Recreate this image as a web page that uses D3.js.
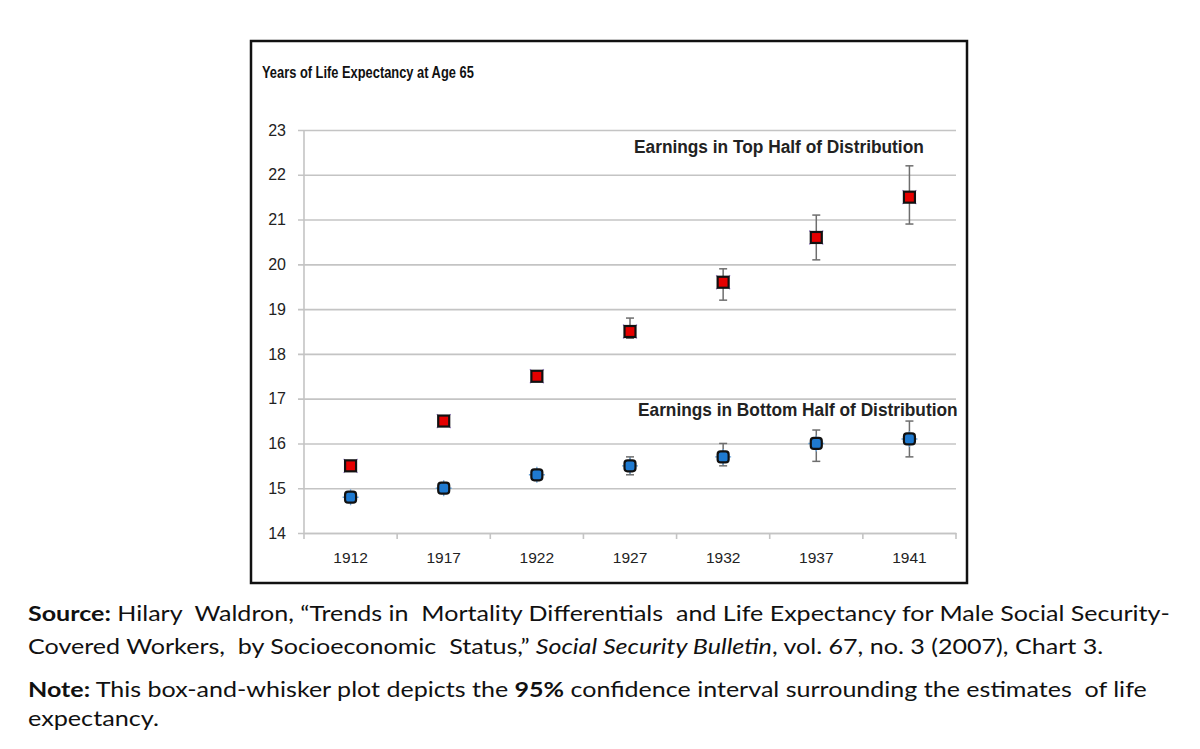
<!DOCTYPE html>
<html><head><meta charset="utf-8">
<script src="https://cdn.jsdelivr.net/npm/d3@7"></script>
<style>
html,body{margin:0;padding:0;background:#fff;}
svg{display:block;}
</style></head>
<body>
<svg id="c" width="1200" height="749"></svg>
<script>
// ---- data ----
const years = ["1912","1917","1922","1927","1932","1937","1941"];
const topVals  = [15.5, 16.5, 17.5, 18.5, 19.6, 20.6, 21.5];
const topLow   = [15.45,16.45,17.45,18.35,19.2, 20.1, 20.9];
const topHigh  = [15.55,16.55,17.55,18.8, 19.9, 21.1, 22.2];
const botVals  = [14.8, 15.0, 15.3, 15.5, 15.7, 16.0, 16.1];
const botLow   = [14.75,14.95,15.2, 15.3, 15.5, 15.6, 15.7];
const botHigh  = [14.85,15.05,15.4, 15.7, 16.0, 16.3, 16.5];
const yTicks   = [14,15,16,17,18,19,20,21,22,23];
const chartTitle = "Years of Life Expectancy at Age 65";
const topLabel = "Earnings in Top Half of Distribution";
const botLabel = "Earnings in Bottom Half of Distribution";

const svg = d3.select("#c");
const W = 1200, H = 749;
svg.append("rect").attr("width",W).attr("height",H).attr("fill","#fff");

// frame
svg.append("rect").attr("x",251).attr("y",41).attr("width",716).attr("height",542)
  .attr("fill","#fff").attr("stroke","#111").attr("stroke-width",2.5);

const L = 304, R = 956, T = 130, B = 533;
const x = d3.scaleBand().domain(years).range([L,R]);
const y = d3.scaleLinear().domain([14,23]).range([B,T]);

const chartFont = "'Liberation Sans Narrow','Liberation Sans',Arial,sans-serif";
const tickFont = "'Liberation Sans',Arial,sans-serif";
const gridCol = "#c4c4c4";

// y axis with gridlines
const gy = svg.append("g").attr("transform",`translate(${L},0)`)
  .call(d3.axisLeft(y).tickValues(yTicks).tickSizeInner(-(R-L)).tickSizeOuter(0).tickPadding(18).tickFormat(d3.format("d")));
gy.select(".domain").remove();
gy.selectAll(".tick line").attr("x1",-6).attr("stroke",gridCol).attr("stroke-width",1.6);
gy.selectAll(".tick text").attr("font-family",tickFont).attr("font-size",16).attr("fill","#222");
// y axis line
svg.append("line").attr("x1",L).attr("x2",L).attr("y1",T).attr("y2",B).attr("stroke",gridCol).attr("stroke-width",1.6);

// x axis
const gx = svg.append("g").attr("transform",`translate(0,${B})`)
  .call(d3.axisBottom(x).tickSize(0).tickPadding(19));
gx.select(".domain").attr("stroke",gridCol).attr("stroke-width",1.6);
gx.selectAll(".tick text").attr("font-family",tickFont).attr("font-size",15.5).attr("fill","#222");
const bounds = years.map(d=>x(d)).concat([x(years[years.length-1])+x.bandwidth()]);
svg.append("g").selectAll("line").data(bounds).join("line")
  .attr("x1",d=>d).attr("x2",d=>d).attr("y1",B).attr("y2",B+6)
  .attr("stroke",gridCol).attr("stroke-width",1.6);

const cx = d => x(d) + x.bandwidth()/2;

function errorBars(lo, hi, color){
  const g = svg.append("g").attr("stroke",color).attr("stroke-width",1.5);
  years.forEach((d,i)=>{
    const X = cx(d);
    g.append("line").attr("x1",X).attr("x2",X).attr("y1",y(hi[i])).attr("y2",y(lo[i]));
    g.append("line").attr("x1",X-4).attr("x2",X+4).attr("y1",y(hi[i])).attr("y2",y(hi[i]));
    g.append("line").attr("x1",X-4).attr("x2",X+4).attr("y1",y(lo[i])).attr("y2",y(lo[i]));
  });
}
errorBars(topLow, topHigh, "#6e6e6e");
errorBars(botLow, botHigh, "#6e6e6e");

// top markers: red squares with faint purple x behind
const tm = svg.append("g");
years.forEach((d,i)=>{
  const X = cx(d), Y = y(topVals[i]);
  tm.append("path").attr("d",`M${X-7},${Y-7}L${X+7},${Y+7}M${X+7},${Y-7}L${X-7},${Y+7}`)
    .attr("stroke","#a48ad8").attr("stroke-width",1.2);
  tm.append("rect").attr("x",X-5.5).attr("y",Y-5.5).attr("width",11).attr("height",11)
    .attr("fill","#e60000").attr("stroke","#111").attr("stroke-width",2.2);
});
// bottom markers: blue rounded squares with faint blue plus behind
const bm = svg.append("g");
years.forEach((d,i)=>{
  const X = cx(d), Y = y(botVals[i]);
  bm.append("path").attr("d",`M${X},${Y-8}L${X},${Y+8}M${X-8},${Y}L${X+8},${Y}`)
    .attr("stroke","#6fa8dc").attr("stroke-width",1.4);
  bm.append("rect").attr("x",X-5.5).attr("y",Y-5.5).attr("width",11).attr("height",11).attr("rx",3)
    .attr("fill","#1f7ad0").attr("stroke","#111").attr("stroke-width",2.2);
});

// fit helper: scale a text node horizontally to a target width
function fit(sel, x0, yb, targetW){
  const w = sel.node().getComputedTextLength();
  sel.attr("x",0).attr("y",0)
     .attr("transform",`translate(${x0},${yb}) scale(${targetW/w},1)`);
}

const t1 = svg.append("text").attr("font-family",chartFont).attr("font-weight","bold")
  .attr("font-size",17).attr("fill","#111").text(chartTitle);
fit(t1, 262, 78, 212);
const t2 = svg.append("text").attr("font-family",chartFont).attr("font-weight","bold")
  .attr("font-size",17.5).attr("fill","#222").text(topLabel);
fit(t2, 634, 153, 290);
const t3 = svg.append("text").attr("font-family",chartFont).attr("font-weight","bold")
  .attr("font-size",17.5).attr("fill","#222").text(botLabel);
fit(t3, 638, 416, 320);

// footer
const ff = "Lato,'Noto Sans',sans-serif";
function footLine(parts, x0, yb, w){
  const t = svg.append("text").attr("font-family",ff).attr("font-size",21).attr("fill","#111");
  parts.forEach(p=>{
    const s = t.append("tspan").text(p.t);
    if (p.b) s.attr("font-weight","bold");
    if (p.i) s.attr("font-style","italic");
  });
  t.attr("xml:space","preserve").style("white-space","pre");
  fit(t, x0, yb, w);
}
footLine([{t:"Source:",b:true},{t:" Hilary  Waldron, “Trends in  Mortality Differentials  and Life Expectancy for Male Social Security-"}], 28, 621, 1142);
footLine([{t:"Covered Workers,  by Socioeconomic  Status,” "},{t:"Social Security Bulletin",i:true},{t:", vol. 67, no. 3 (2007), Chart 3."}], 28, 654, 1076);
footLine([{t:"Note:",b:true},{t:" This box-and-whisker plot depicts the "},{t:"95%",b:true},{t:" confidence interval surrounding the estimates  of life"}], 28, 697, 1119);
footLine([{t:"expectancy."}], 28, 726, 131);
</script>
</body></html>
